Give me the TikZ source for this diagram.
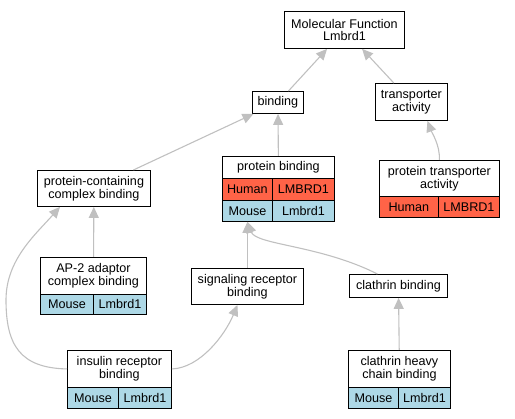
\documentclass[tikz,border=0pt]{standalone}
\usepackage{fontspec}
\setmainfont{Liberation Sans}
\usetikzlibrary{arrows.meta}
\definecolor{human}{HTML}{FF6347}
\definecolor{mouse}{HTML}{ADD8E6}
\definecolor{edgegray}{HTML}{C0C0C0}
\begin{document}
\begin{tikzpicture}[x=1pt, y=-1pt,
    term/.style={draw=black, line width=0.9pt, fill=white, inner sep=0pt, anchor=north west,
        align=center, font=\fontsize{12.6}{12.7}\selectfont},
    cellH/.style={term, fill=human},
    cellM/.style={term, fill=mouse},
    isa/.style={draw=edgegray, line width=1.1pt, -{Triangle[length=11pt, width=10pt]}}]
                \useasboundingbox (0,0) rectangle (515,419);
                % terms
                \node[term, minimum width=120pt, minimum height=37pt] (mf) at (284,11) {Molecular Function\\Lmbrd1};
                \node[term, minimum width=51pt, minimum height=22pt] (bind) at (252,91) {binding};
                \node[term, minimum width=72pt, minimum height=37pt] (trans) at (375,83) {transporter\\activity};
                \node[term, minimum width=112pt, minimum height=22pt] (pb) at (222,156) {protein binding};
                \node[cellH, minimum width=50pt, minimum height=22pt] (pbh1) at (222,178) {Human};
                \node[cellH, minimum width=62pt, minimum height=22pt] (pbh2) at (272,178) {LMBRD1};
                \node[cellM, minimum width=50pt, minimum height=21pt] (pbm1) at (222,200) {Mouse};
                \node[cellM, minimum width=62pt, minimum height=21pt] (pbm2) at (272,200) {Lmbrd1};
                \node[term, minimum width=120pt, minimum height=36pt] (pta) at (379,160) {protein transporter\\activity};
                \node[cellH, minimum width=59pt, minimum height=21pt] (ptah1) at (379,196) {Human};
                \node[cellH, minimum width=61pt, minimum height=21pt] (ptah2) at (438,196) {LMBRD1};
                \node[term, minimum width=113pt, minimum height=36pt] (pccb) at (37,170) {protein-containing\\complex binding};
                \node[term, minimum width=106pt, minimum height=37pt] (ap2) at (40,257) {AP-2 adaptor\\complex binding};
                \node[cellM, minimum width=53pt, minimum height=20pt] (ap2m1) at (40,294) {Mouse};
                \node[cellM, minimum width=53pt, minimum height=20pt] (ap2m2) at (93,294) {Lmbrd1};
                \node[term, minimum width=112pt, minimum height=36pt] (srb) at (191,268) {signaling receptor\\binding};
                \node[term, minimum width=98pt, minimum height=23pt] (cb) at (349,274) {clathrin binding};
                \node[term, minimum width=104pt, minimum height=37pt] (irb) at (67,350) {insulin receptor\\binding};
                \node[cellM, minimum width=51pt, minimum height=21pt] (irbm1) at (67,387) {Mouse};
                \node[cellM, minimum width=53pt, minimum height=21pt] (irbm2) at (118,387) {Lmbrd1};
                \node[term, minimum width=102pt, minimum height=37pt] (chcb) at (348,350) {clathrin heavy\\chain binding};
                \node[cellM, minimum width=50pt, minimum height=21pt] (chcbm1) at (348,387) {Mouse};
                \node[cellM, minimum width=52pt, minimum height=21pt] (chcbm2) at (398,387) {Lmbrd1};
                % is_a edges
                \coordinate (taIn) at ([xshift=16pt]trans.south);
                \coordinate (pccbIn) at ([xshift=23pt]pccb.south west);
                \coordinate (srbIn) at ([xshift=-10pt]srb.south);
                \coordinate (cbOut) at ([xshift=-21pt]cb.north);
                \draw[isa] (bind) -- (mf);
                \draw[isa] (trans) -- (mf);
                \draw[isa] (pb) -- (bind);
                \draw[isa] (pccb) -- (bind);
                \draw[isa] (pta.north) .. controls (440,145) and (432,133) .. (taIn);
                \draw[isa] (ap2) -- (pccb);
                \draw[isa] (irb.west) .. controls (20,368) and (6,345) .. (6,300) .. controls (6,260) and (35,235) .. (pccbIn);
                \draw[isa] (irb.east) .. controls (200,368) and (225,335) .. (srbIn);
                \draw[isa] (srb) -- (pbm1.south);
                \draw[isa] (cbOut) .. controls (320,245) and (256,245) .. (pbm1.south);
                \draw[isa] (chcb) -- (cb);

            \end{tikzpicture}
\end{document}
